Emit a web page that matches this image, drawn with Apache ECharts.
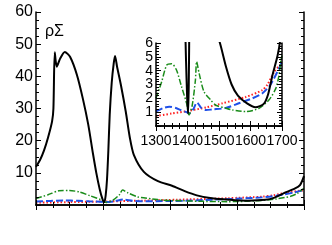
<!DOCTYPE html>
<html><head><meta charset="utf-8">
<script src="https://cdn.jsdelivr.net/npm/echarts@6/dist/echarts.min.js"></script>
<style>html,body{margin:0;padding:0;background:#fff}#c{width:332px;height:245px}</style>
</head><body><div id="c"></div>
<script>
const blackX = [1300,1306,1312,1318,1324,1326,1328,1331,1336,1343,1351,1361,1370,1378,1385,1390,1395,1399,1402,1404,1406,1408,1410,1413,1416,1418,1421,1427,1434,1440,1446,1461,1482,1503,1522,1540,1560,1589,1616,1642,1656,1670,1686,1694,1700];
const blackY = [11.9,14,17,21,26,30,47.5,43,45.5,47.6,46,40.5,33,25,16,10,5,2,0.9,3,8,17,28,38,44,46.3,43,37,29,21,15.6,10.3,7.4,6,4.3,3.0,2.2,1.64,1.36,1.6,2.3,3.7,5.1,6.2,9];
const greenX = [1300,1318,1334,1350,1365,1381,1397,1405,1415,1425,1429,1437,1452,1473,1490,1520,1543,1585,1627,1659,1680,1690,1697,1700];
const greenY = [2.0,3.2,4.4,4.5,4.05,2.85,1.65,0.8,1.5,3.3,4.65,3.8,2.5,1.9,1.5,1.3,1.16,1.04,1.28,1.9,2.7,3.6,4.8,5.1];
const blueX = [1300,1321,1342,1363,1379,1397,1405,1418,1430,1444,1459,1480,1521,1563,1606,1638,1659,1669,1685,1700];
const blueY = [1.05,1.28,1.4,1.3,1.15,1.0,0.9,1.2,1.7,1.3,1.15,1.2,1.3,1.64,2.0,2.37,2.85,3.2,3.9,4.65];
const redX = [1300,1350,1405,1460,1511,1585,1638,1654,1675,1697,1700];
const redY = [0.72,0.9,1.1,1.35,1.64,2.1,2.6,3.0,3.9,4.5,4.6];
const mainYTicks = [10,20,30,40,50,60];
const insetXTicks = [1300,1400,1500,1600,1700];
const insetYTicks = [1,2,3,4,5,6];
const label = 'ρΣ';

const pairs = (xs, ys) => xs.map((x, i) => [x, ys[i]]);
const FONT = 'Liberation Sans, Arial, sans-serif';
const lineAx = {show: true, lineStyle: {color: '#000', width: 1.5}};

function xAx(grid, pos, showLabel, min, max, interval, z) {
  return {type: 'value', gridIndex: grid, position: pos, min, max, interval, z,
    axisLine: lineAx,
    axisTick: {show: true, inside: true, length: 5, lineStyle: {color: '#000'}},
    minorTick: {show: true, splitNumber: 4, length: 3, lineStyle: {color: '#000'}},
    splitLine: {show: false}, minorSplitLine: {show: false},
    axisLabel: {show: showLabel, color: '#000', fontFamily: FONT, fontSize: 14, margin: 8,
      formatter: v => insetXTicks.includes(v) ? String(v) : ''}};
}
function yAx(grid, pos, showLabel, min, max, interval, minorSplit, fs, ticks, z) {
  return {type: 'value', gridIndex: grid, position: pos, min, max, interval, z,
    axisLine: lineAx,
    axisTick: {show: true, inside: true, length: 5, lineStyle: {color: '#000'}},
    minorTick: {show: true, splitNumber: minorSplit, length: 3, lineStyle: {color: '#000'}},
    splitLine: {show: false}, minorSplitLine: {show: false},
    axisLabel: {show: showLabel, color: '#000', fontFamily: FONT, fontSize: fs, margin: 3,
      formatter: v => ticks.includes(v) ? String(v) : ''}};
}

function mk(xs, ys, color, width, type, xi, yi, z) {
  return {type: 'line', xAxisIndex: xi, yAxisIndex: yi, data: pairs(xs, ys), showSymbol: false,
    symbol: 'none', smooth: 0.25, z, clip: true,
    lineStyle: {color, width, type}};
}

const chart = echarts.init(document.getElementById('c'), null, {renderer: 'canvas'});
const series = [];
const defs = [
  [redX, redY, '#ff2020', 2, [1.5, 2]],
  [blueX, blueY, '#1f4fe8', 2, [7, 3]],
  [greenX, greenY, '#1a8c1a', 1.5, [6, 2, 1.5, 2]],
  [blackX, blackY, '#000', 2, 'solid']
];
defs.forEach(d => series.push(mk(d[0], d[1], d[2], d[3], d[4], 0, 0, 2)));
defs.forEach(d => series.push(mk(d[0], d[1], d[2], d[3], d[4], 2, 2, 12)));

chart.setOption({
  animation: false,
  backgroundColor: '#fff',
  title: {text: label, left: 45, top: 24, padding: 0, textStyle: {fontFamily: FONT, fontSize: 16, fontWeight: 'normal', color: '#000'}},
  grid: [
    {left: 36, right: 28, top: 12, bottom: 40, show: false},
    {left: 156, right: 50, top: 43, bottom: 119, show: true, backgroundColor: '#fff', borderColor: '#000', borderWidth: 0, z: 10}
  ],
  xAxis: [
    xAx(0, 'bottom', false, 1300, 1700, 100, 3),
    xAx(0, 'top', false, 1300, 1700, 100, 3),
    xAx(1, 'bottom', true, 1300, 1700, 100, 14),
    xAx(1, 'top', false, 1300, 1700, 100, 14)
  ],
  yAxis: [
    yAx(0, 'left', true, 0, 60, 10, 4, 16, mainYTicks, 3),
    yAx(0, 'right', false, 0, 60, 10, 4, 16, mainYTicks, 3),
    yAx(1, 'left', true, 0, 6, 1, 5, 14, insetYTicks, 14),
    yAx(1, 'right', false, 0, 6, 1, 5, 14, insetYTicks, 14)
  ],
  series
});
</script></body></html>
